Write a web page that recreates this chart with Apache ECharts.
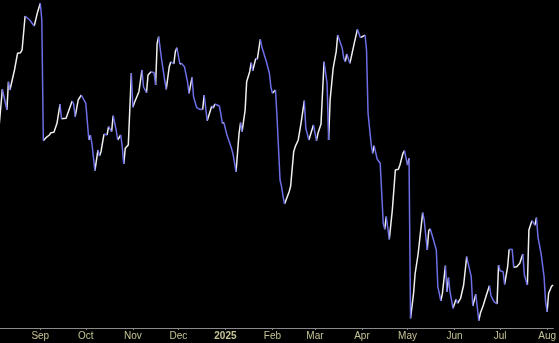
<!DOCTYPE html>
<html>
<head>
<meta charset="utf-8">
<script src="https://cdn.jsdelivr.net/npm/echarts@6/dist/echarts.min.js"></script>
<style>
html,body{margin:0;padding:0;background:#000;}
#chart{width:559px;height:343px;}
</style>
</head>
<body>
<div id="chart"></div>
<script>
const dates = [
'2024-08-05','2024-08-07','2024-08-10','2024-08-11','2024-08-12','2024-08-15','2024-08-17','2024-08-19','2024-08-20','2024-08-22',
'2024-08-25','2024-08-26','2024-08-28','2024-08-30','2024-09-01','2024-09-02','2024-09-03','2024-09-05','2024-09-07','2024-09-08',
'2024-09-10','2024-09-12','2024-09-14','2024-09-15','2024-09-18','2024-09-19','2024-09-22','2024-09-23','2024-09-24','2024-09-26',
'2024-09-28','2024-09-29','2024-10-01','2024-10-03','2024-10-04','2024-10-05','2024-10-07','2024-10-09','2024-10-10','2024-10-11',
'2024-10-13','2024-10-15','2024-10-16','2024-10-18','2024-10-19','2024-10-21','2024-10-22','2024-10-24','2024-10-25','2024-10-26',
'2024-10-27','2024-10-29','2024-10-31','2024-11-01','2024-11-02','2024-11-05','2024-11-07','2024-11-08','2024-11-10','2024-11-11',
'2024-11-13','2024-11-15','2024-11-16','2024-11-17','2024-11-18','2024-11-20','2024-11-22','2024-11-23','2024-11-25','2024-11-26',
'2024-11-28','2024-11-29','2024-11-30','2024-12-02','2024-12-03','2024-12-05','2024-12-07','2024-12-08','2024-12-10','2024-12-11',
'2024-12-13','2024-12-15','2024-12-17','2024-12-18','2024-12-20','2024-12-21','2024-12-23','2024-12-24','2024-12-25','2024-12-28',
'2024-12-29','2024-12-30','2024-12-31','2025-01-02','2025-01-03','2025-01-05','2025-01-06','2025-01-08','2025-01-10','2025-01-11',
'2025-01-12','2025-01-14','2025-01-15','2025-01-17','2025-01-18','2025-01-19','2025-01-21','2025-01-22','2025-01-24','2025-01-25',
'2025-01-27','2025-01-28','2025-01-30','2025-01-31','2025-02-01','2025-02-03','2025-02-04','2025-02-06','2025-02-07','2025-02-08',
'2025-02-09','2025-02-10','2025-02-12','2025-02-13','2025-02-15','2025-02-16','2025-02-18','2025-02-20','2025-02-22','2025-02-23',
'2025-02-25','2025-02-26','2025-02-28','2025-03-02','2025-03-03','2025-03-05','2025-03-07','2025-03-09','2025-03-10','2025-03-11',
'2025-03-13','2025-03-15','2025-03-16','2025-03-17','2025-03-19','2025-03-20','2025-03-21','2025-03-22','2025-03-24','2025-03-25',
'2025-03-27','2025-03-28','2025-03-29','2025-03-31','2025-04-01','2025-04-03','2025-04-04','2025-04-05','2025-04-07','2025-04-08',
'2025-04-09','2025-04-11','2025-04-12','2025-04-13','2025-04-15','2025-04-16','2025-04-17','2025-04-19','2025-04-21','2025-04-23',
'2025-04-25','2025-04-26','2025-04-28','2025-04-29','2025-05-01','2025-05-02','2025-05-03','2025-05-05','2025-05-06','2025-05-08',
'2025-05-09','2025-05-11','2025-05-12','2025-05-14','2025-05-15','2025-05-16','2025-05-18','2025-05-20','2025-05-21','2025-05-23',
'2025-05-24','2025-05-26','2025-05-27','2025-05-28','2025-05-29','2025-05-31','2025-06-02','2025-06-03','2025-06-05','2025-06-07',
'2025-06-09','2025-06-10','2025-06-12','2025-06-13','2025-06-15','2025-06-17','2025-06-18','2025-06-20','2025-06-22','2025-06-24',
'2025-06-25','2025-06-27','2025-06-29','2025-06-30','2025-07-01','2025-07-03','2025-07-04','2025-07-06','2025-07-07','2025-07-09',
'2025-07-10','2025-07-12','2025-07-14','2025-07-16','2025-07-17','2025-07-19','2025-07-20','2025-07-22','2025-07-23','2025-07-24',
'2025-07-25','2025-07-26','2025-07-28','2025-07-30','2025-07-31','2025-08-01','2025-08-02','2025-08-04','2025-08-05'
];
const values = [
81.10,86.39,83.23,87.55,86.28,89.33,91.87,91.97,92.38,97.56,
96.95,96.84,96.04,97.97,99.50,96.95,78.55,79.07,79.42,79.77,
79.83,81.20,84.10,81.91,81.97,82.12,84.60,84.15,82.21,84.76,
85.52,85.26,84.25,78.66,79.42,78.16,73.98,77.13,76.22,76.88,
79.57,79.42,80.69,79.92,82.36,80.18,78.66,79.42,77.64,75.00,
77.39,77.90,88.83,83.64,84.34,86.02,89.33,86.78,85.87,88.57,
89.07,88.92,87.04,93.40,94.41,90.85,87.80,86.39,89.83,90.59,
90.24,92.12,92.73,90.24,90.35,89.83,87.55,85.78,88.22,85.26,
83.64,83.34,83.30,85.52,81.60,81.62,83.84,83.49,84.15,83.84,
82.62,81.20,81.30,79.42,79.16,77.39,76.52,73.83,79.68,81.30,
79.92,83.23,87.55,89.07,90.44,89.22,91.11,90.96,94.01,92.88,
91.36,90.59,88.83,86.69,85.78,86.28,82.21,72.56,71.54,70.02,
68.90,69.01,70.78,71.65,76.88,77.64,78.66,81.45,84.65,80.44,
78.66,78.77,80.95,78.55,79.68,81.10,90.59,87.30,78.66,84.76,
89.59,92.12,94.66,94.64,92.64,91.11,90.59,91.77,90.35,91.36,
93.49,93.70,95.53,94.25,94.51,94.66,92.38,82.73,78.16,76.63,
77.79,75.76,75.72,75.11,65.96,65.05,66.97,63.52,67.99,74.09,
74.19,74.85,76.63,77.03,74.85,75.87,51.48,55.29,58.23,61.28,
61.48,67.58,66.46,61.89,64.83,65.14,63.52,61.89,56.30,54.12,
55.29,59.50,55.53,57.67,55.53,53.00,54.37,53.77,54.53,56.55,
60.87,59.86,57.82,53.35,55.14,51.11,52.24,53.51,55.03,56.45,
54.92,54.01,53.66,59.60,58.73,58.58,56.66,59.34,62.00,61.98,
59.25,59.34,59.86,61.28,58.08,56.55,64.94,66.36,66.05,65.66,
66.81,63.83,61.39,57.82,54.01,52.48,55.29,56.40,56.55
];
const tickDates = ['2024-09-01','2024-10-01','2024-11-01','2024-12-01','2025-01-01','2025-02-01','2025-03-01','2025-04-01','2025-05-01','2025-06-01','2025-07-01','2025-08-01'];
const tickLabels = ['Sep','Oct','Nov','Dec','2025','Feb','Mar','Apr','May','Jun','Jul','Aug'];
const axisStart = '2024-08-05 10:48';
const axisEnd = '2025-08-05 02:10';

const UP_COLOR = '#f0f0f0';
const DOWN_COLOR = '#6e6ee8';
const LABEL_COLOR = '#c4c494';
const FONT = 'Liberation Sans, Arial, sans-serif';

const toTime = s => echarts.time.parse(s).getTime();
const times = dates.map(toTime);
const tickTimes = tickDates.map(toTime);
const n = values.length;

// Split the path into runs of rising (white) and falling (blue) segments.
// Runs of each colour alternate between two series so a gap (null)
// always separates two runs drawn by the same series.
const runs = [];
{
  let s = 0;
  const up = i => values[i + 1] >= values[i];
  for (let i = 1; i < n - 1; i++) {
    if (up(i) !== up(s)) { runs.push({ s: s, e: i, up: up(s) }); s = i; }
  }
  runs.push({ s: s, e: n - 1, up: up(s) });
}
const buckets = [[], [], [], []]; // upA, upB, downA, downB
for (let k = 0; k < 4; k++) for (let i = 0; i < n; i++) buckets[k].push([times[i], null]);
let upCount = 0, downCount = 0;
runs.forEach(r => {
  const k = r.up ? (upCount++ % 2) : 2 + (downCount++ % 2);
  for (let i = r.s; i <= r.e; i++) buckets[k][i] = [times[i], values[i]];
});

function labelFor(val) {
  let best = 0;
  for (let k = 1; k < tickTimes.length; k++) {
    if (Math.abs(tickTimes[k] - val) < Math.abs(tickTimes[best] - val)) best = k;
  }
  return tickLabels[best];
}

const lineSeries = buckets.map((d, k) => ({
  type: 'line',
  data: d,
  showSymbol: false,
  symbol: 'none',
  smooth: false,
  connectNulls: false,
  z: 2,
  lineStyle: { width: 1.5, color: k < 2 ? UP_COLOR : DOWN_COLOR },
  itemStyle: { color: k < 2 ? UP_COLOR : DOWN_COLOR }
}));

const chart = echarts.init(document.getElementById('chart'), null, { renderer: 'canvas' });
chart.setOption({
  backgroundColor: '#000000',
  animation: false,
  grid: { left: 0, right: 0, top: 0, bottom: 15, containLabel: false },
  xAxis: {
    type: 'value',
    min: toTime(axisStart),
    max: toTime(axisEnd),
    axisLine: { show: true, onZero: false, lineStyle: { color: '#8a8a8a', width: 1 } },
    axisTick: { show: true, length: 2, lineStyle: { color: '#8a8a8a' }, customValues: tickTimes },
    splitLine: { show: false },
    axisLabel: {
      customValues: tickTimes,
      color: LABEL_COLOR,
      fontFamily: FONT,
      fontSize: 10,
      margin: 3,
      formatter: function (val) {
        const lab = labelFor(val);
        return /^\d{4}$/.test(lab) ? '{yr|' + lab + '}' : '{m|' + lab + '}';
      },
      rich: {
        m: { color: LABEL_COLOR, fontSize: 10, fontFamily: FONT },
        yr: { color: LABEL_COLOR, fontSize: 10, fontWeight: 'bold', fontFamily: FONT }
      }
    }
  },
  yAxis: { type: 'value', min: 50, max: 100, show: false, splitLine: { show: false } },
  series: lineSeries
});
</script>
</body>
</html>
